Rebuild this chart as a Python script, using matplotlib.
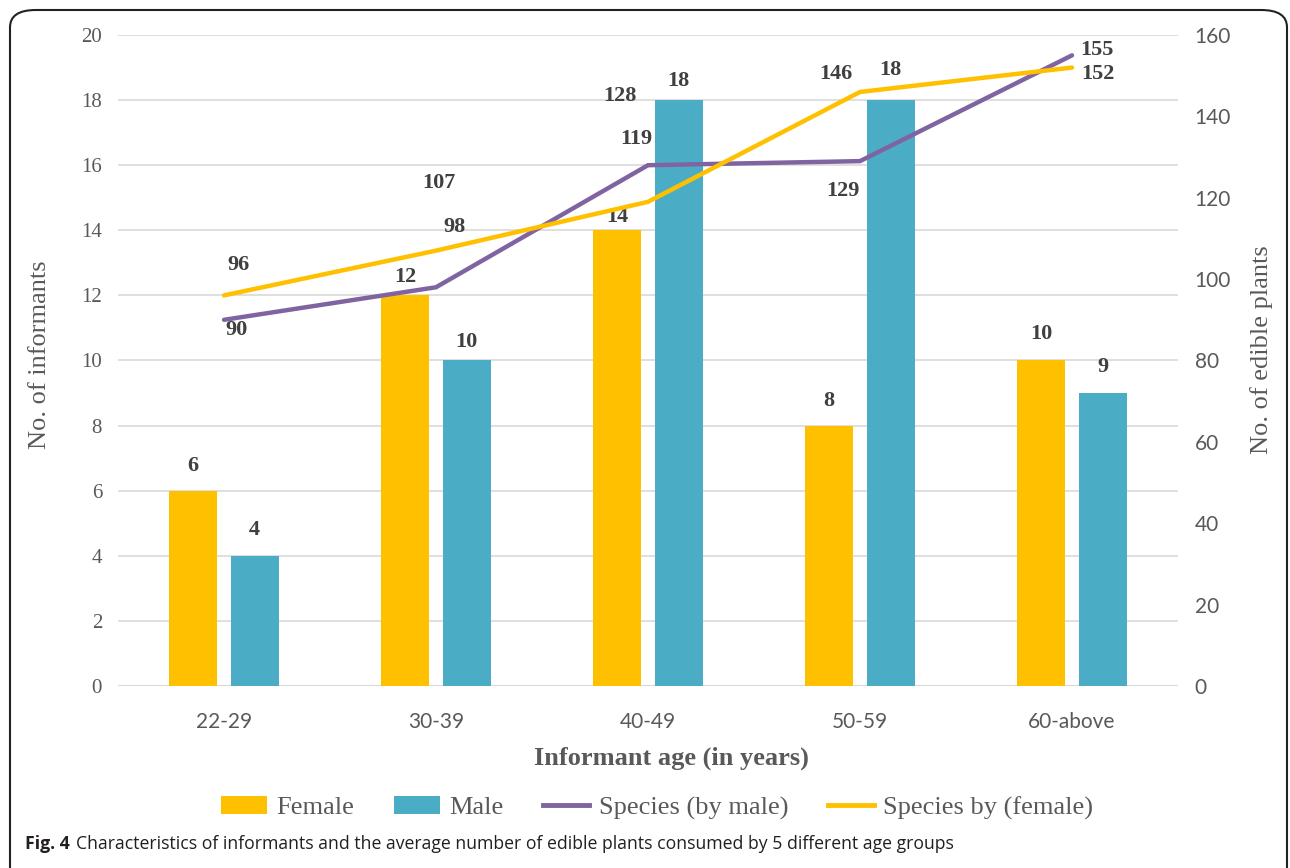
import matplotlib
matplotlib.use("Agg")
import matplotlib.pyplot as plt
import numpy as np
from matplotlib.patches import FancyBboxPatch, Patch
from matplotlib.lines import Line2D

# ---- data ----
age_groups = ["22-29", "30-39", "40-49", "50-59", "60-above"]
female = [6, 12, 14, 8, 10]
male = [4, 10, 18, 18, 9]
species_male = [90, 98, 128, 129, 155]
species_female = [96, 107, 119, 146, 152]

# label offsets (pixels), copied from the reference layout
female_bar_off = [25, 18, 13, 25, 26]
male_bar_off = [26, 18, 19, 30, 26]
male_lbl_off = [(12, -10), (18, 60), (-28, 69), (-17, -30), (25, 5)]
female_lbl_off = [(14, 30), (3, 68), (-12, 63), (-24, 18), (26, -6)]

C_FEMALE = "#FFC000"
C_MALE = "#4BACC6"
C_PURPLE = "#8064A2"
C_GRID = "#D9D9D9"
C_TICK = "#595959"
C_LBL = "#404040"
SERIF = "Liberation Serif"
SANS = ["Lato", "DejaVu Sans"]
CAP = ["Open Sans", "DejaVu Sans"]

W, H = 1290, 868
fig = plt.figure(figsize=(W / 100, H / 100), dpi=100)
fig.patch.set_facecolor("white")

ax = fig.add_axes([118 / W, 1 - 686 / H, (1178 - 118) / W, (686 - 35) / H])
ax2 = ax.twinx()

x = np.arange(len(age_groups))
bw = 0.225
off = 0.145
ax.bar(x - off, female, bw, color=C_FEMALE, zorder=2)
ax.bar(x + off, male, bw, color=C_MALE, zorder=2)

for xi, v, dy in zip(x - off, female, female_bar_off):
    ax.annotate(str(v), (xi, v), xytext=(0, dy), textcoords="offset pixels",
                ha="center", va="center", fontsize=16, fontweight="bold",
                family=SERIF, color=C_LBL)
for xi, v, dy in zip(x + off, male, male_bar_off):
    ax.annotate(str(v), (xi, v), xytext=(0, dy), textcoords="offset pixels",
                ha="center", va="center", fontsize=16, fontweight="bold",
                family=SERIF, color=C_LBL)

ax.set_xlim(-0.5, len(age_groups) - 0.5)
ax.set_ylim(0, 20)
ax.set_yticks(range(0, 21, 2))
ax2.set_ylim(0, 160)
ax2.set_yticks(range(0, 161, 20))

ax.grid(axis="y", color=C_GRID, lw=1.2, zorder=0)
ax.set_axisbelow(True)
for a in (ax, ax2):
    for s in ("top", "left", "right", "bottom"):
        a.spines[s].set_visible(False)
ax.axhline(0, color=C_GRID, lw=1.5, zorder=1)

ax.tick_params(axis="y", length=0, pad=11.5, labelsize=15, labelcolor=C_TICK)
for t in ax.get_yticklabels():
    t.set_family(SERIF)
ax2.tick_params(axis="y", length=0, pad=12, labelsize=15, labelcolor=C_TICK)
for t in ax2.get_yticklabels():
    t.set_family(SANS)
ax.set_xticks(x)
ax.set_xticklabels(age_groups, family=SANS, fontsize=15, color=C_TICK)
ax.tick_params(axis="x", length=0, pad=19)

ax2.plot(x, species_male, color=C_PURPLE, lw=3.2, zorder=3,
         solid_capstyle="round", solid_joinstyle="miter")
ax2.plot(x, species_female, color=C_FEMALE, lw=3.2, zorder=3,
         solid_capstyle="round", solid_joinstyle="miter")
ax2.set_zorder(ax.get_zorder() + 1)
ax2.patch.set_visible(False)

for xi, v, (dx, dy) in zip(x, species_male, male_lbl_off):
    ax2.annotate(str(v), (xi, v), xytext=(dx, dy), textcoords="offset pixels",
                 ha="center", va="center", fontsize=16, fontweight="bold",
                 family=SERIF, color=C_LBL)
for xi, v, (dx, dy) in zip(x, species_female, female_lbl_off):
    ax2.annotate(str(v), (xi, v), xytext=(dx, dy), textcoords="offset pixels",
                 ha="center", va="center", fontsize=16, fontweight="bold",
                 family=SERIF, color=C_LBL)

fig.text(40 / W, 1 - 355 / H, "No. of informants", rotation=90, ha="center",
         va="center", family=SERIF, fontsize=19, color=C_TICK)
fig.text(1262 / W, 1 - 350 / H, "No. of edible plants", rotation=90, ha="center",
         va="center", family=SERIF, fontsize=19, color=C_TICK)
fig.text(671 / W, 1 - 758 / H, "Informant age (in years)", ha="center",
         va="center", family=SERIF, fontsize=19, fontweight="bold", color=C_TICK)

handles = [Patch(facecolor=C_FEMALE), Patch(facecolor=C_MALE),
           Line2D([], [], color=C_PURPLE, lw=3.5),
           Line2D([], [], color=C_FEMALE, lw=3.5)]
labels = ["Female", "Male", "Species (by male)", "Species by (female)"]
fig.legend(handles, labels, loc="center", bbox_to_anchor=(657 / W, 1 - 808 / H),
           ncol=4, frameon=False, prop={"family": SERIF, "size": 19},
           labelcolor=C_TICK, handlelength=1.75, handleheight=0.65,
           handletextpad=0.35, columnspacing=1.5)

# caption, fitted to the reference span (x 25 .. 952 px)
cap_base = 1 - 849 / H
cap_size = 12.5
t1 = fig.text(25 / W, cap_base, "Fig. 4", ha="left", va="baseline",
              family=CAP, fontweight="bold", fontsize=cap_size, color="#231F20")
t2 = fig.text(0, cap_base,
              "Characteristics of informants and the average number of edible plants consumed by 5 different age groups",
              ha="left", va="baseline", family=CAP, fontsize=cap_size, color="#231F20")
fig.canvas.draw()
r = fig.canvas.get_renderer()
for _ in range(3):
    bb = t1.get_window_extent(r)
    t2.set_x((bb.x1 + 6) / W)
    bb2 = t2.get_window_extent(r)
    total = bb2.x1 - 25
    cap_size *= 927 / total
    t1.set_fontsize(cap_size)
    t2.set_fontsize(cap_size)
bb = t1.get_window_extent(r)
t2.set_x((bb.x1 + 6) / W)

# frame
frame = FancyBboxPatch((10 / W, -0.05), (1287 - 10) / W, (1 - 10 / H) + 0.05,
                       boxstyle="round,pad=0,rounding_size=0.02",
                       transform=fig.transFigure, fill=False, ec="#222222", lw=1.5)
fig.patches.append(frame)

fig.savefig("out.png", dpi=100)
